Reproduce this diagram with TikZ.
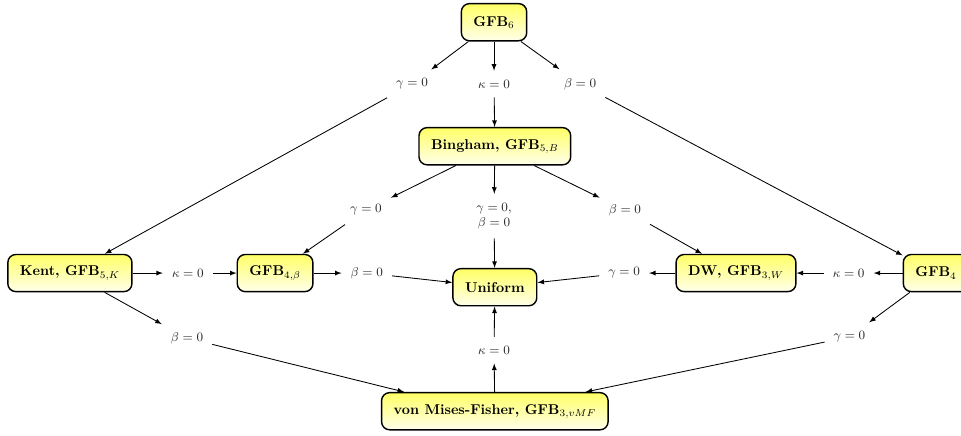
\documentclass[tikz,border=0pt]{standalone}
\usepackage{amsmath}
\usepackage{tikz}

\begin{document}
\begin{tikzpicture}[box/.style={draw,line width=1pt,rounded corners=2mm,top color=yellow!60,bottom color=yellow!8,minimum height=9.2mm,inner xsep=3mm,font=\bfseries},
lbl/.style={font=\small,text=black!85,inner sep=2.2mm},
arr/.style={-latex,semithick}]
\clip (0,0) rectangle (237.9mm,107.7mm);
\node[box] (gfbsix) at (122.3mm,102.2mm) {GFB$_6$};
\node[lbl] (gone) at (102mm,86.9mm) {$\gamma=0$};
\node[lbl] (kone) at (122.3mm,86.9mm) {$\kappa=0$};
\node[lbl] (bone) at (143.6mm,86.9mm) {$\beta=0$};
\node[box] (bing) at (122.5mm,71.5mm) {Bingham, GFB$_{5,B}$};
\node[lbl] (gtwo) at (90.6mm,55.7mm) {$\gamma=0$};
\node[lbl,align=center] (gbtwo) at (122.3mm,54.2mm) {$\gamma=0$,\\ $\beta=0$};
\node[lbl] (btwo) at (154.7mm,55.7mm) {$\beta=0$};
\node[box] (kent) at (17.3mm,40.1mm) {Kent, GFB$_{5,K}$};
\node[lbl] (kthree) at (46.5mm,40.1mm) {$\kappa=0$};
\node[box] (gfbfb) at (68.1mm,40.1mm) {GFB$_{4,\beta}$};
\node[lbl] (bthree) at (90.8mm,40.1mm) {$\beta=0$};
\node[box] (unif) at (122.5mm,36.6mm) {Uniform};
\node[lbl] (gthree) at (154.5mm,40.1mm) {$\gamma=0$};
\node[box] (dw) at (182.2mm,40.1mm) {DW, GFB$_{3,W}$};
\node[lbl] (kfour) at (210.1mm,40.1mm) {$\kappa=0$};
\node[box] (gfbfour) at (231.7mm,40.1mm) {GFB$_4$};
\node[lbl] (bfour) at (46.3mm,24mm) {$\beta=0$};
\node[lbl] (kfive) at (122.3mm,21mm) {$\kappa=0$};
\node[lbl] (gfive) at (210.3mm,24.3mm) {$\gamma=0$};
\node[box] (vmf) at (122.5mm,5.9mm) {von Mises-Fisher, GFB$_{3,vMF}$};
% from the top
\draw[arr] (gfbsix) -- (gone);
\draw[arr] (gone) -- (kent);
\draw[arr] (gfbsix) -- (kone);
\draw[arr] (kone) -- (bing);
\draw[arr] (gfbsix) -- (bone);
\draw[arr] (bone) -- (gfbfour);
% Bingham
\draw[arr] (bing) -- (gtwo);
\draw[arr] (gtwo) -- (gfbfb);
\draw[arr] (bing) -- (gbtwo);
\draw[arr] (gbtwo) -- (unif);
\draw[arr] (bing) -- (btwo);
\draw[arr] (btwo) -- (dw);
% middle row
\draw[arr] (kent) -- (kthree);
\draw[arr] (kthree) -- (gfbfb);
\draw[arr] (gfbfb) -- (bthree);
\draw[arr] (bthree) -- (unif);
\draw[arr] (dw) -- (gthree);
\draw[arr] (gthree) -- (unif);
\draw[arr] (gfbfour) -- (kfour);
\draw[arr] (kfour) -- (dw);
% down to vMF
\draw[arr] (kent) -- (bfour);
\draw[arr] (bfour) -- (vmf.168);
\draw[arr] (gfbfour) -- (gfive);
\draw[arr] (gfive) -- (vmf.12);
\draw[arr] (vmf) -- (kfive);
\draw[arr] (kfive) -- (unif);
\end{tikzpicture}
\end{document}
